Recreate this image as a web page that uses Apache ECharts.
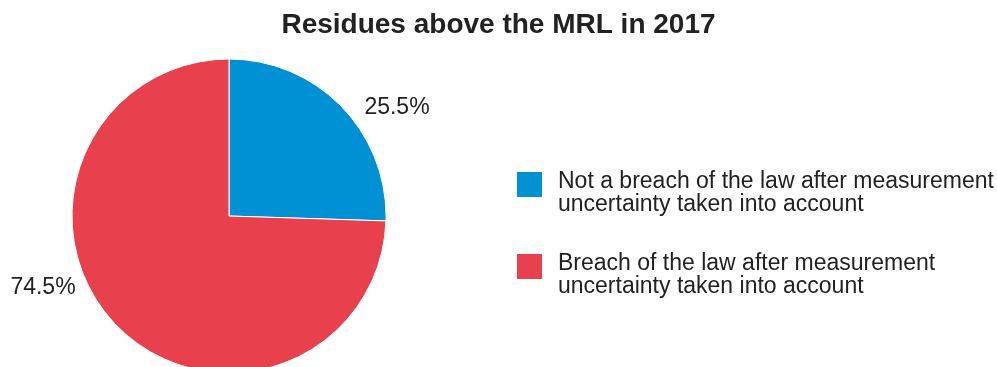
<!DOCTYPE html>
<html>
<head>
<meta charset="utf-8">
<script src="https://cdn.jsdelivr.net/npm/echarts@6/dist/echarts.min.js"></script>
<style>
  html, body { margin: 0; padding: 0; background: #fff; }
  #chart { width: 997px; height: 367px; }
</style>
</head>
<body>
<div id="chart"></div>
<script>
// Share of samples with residues above the MRL, 2017
const categories = [
  'Not a breach of the law after measurement\nuncertainty taken into account',
  'Breach of the law after measurement\nuncertainty taken into account'
];
const shares = [25.5, 74.5];
const colors = ['#0090d4', '#e8404d'];
// where each percentage label sits, relative to the pie centre (px)
const labelOffsets = [[168, -108], [-186, 72]];

const center = [229, 216];
const radius = 157;
const font = 'Liberation Sans';

const chart = echarts.init(document.getElementById('chart'));
chart.setOption({
  animation: false,
  title: {
    text: 'Residues above the MRL in 2017',
    left: 'center',
    top: 11,
    padding: 0,
    textStyle: { fontFamily: font, fontSize: 28, fontWeight: 'bold', color: '#222' }
  },
  legend: {
    orient: 'vertical',
    left: 517,
    top: 150,
    padding: 0,
    itemWidth: 25,
    itemHeight: 25,
    itemGap: 16,
    itemStyle: { borderWidth: 0 },
    icon: 'rect',
    // a short spacer line on top drops the text so its first line sits level with the swatch
    formatter: name => '{s|}\n' + name.split('\n').map(l => '{g|}' + l).join('\n'),
    textStyle: {
      fontFamily: font, fontSize: 23, lineHeight: 23, color: '#222',
      rich: {
        s: { lineHeight: 17, height: 17 },
        g: { width: 11 }
      }
    },
    data: categories
  },
  series: [{
    type: 'pie',
    center: center,
    radius: radius,
    startAngle: 90,
    clockwise: true,
    itemStyle: { borderColor: '#fff', borderWidth: 1 },
    label: {
      show: true,
      position: 'inside',
      overflow: 'none',
      formatter: p => p.value.toFixed(1) + '%',
      fontFamily: font, fontSize: 23, color: '#222'
    },
    labelLine: { show: false },
    labelLayout: function (params) {
      const off = labelOffsets[params.dataIndex];
      return {
        x: center[0] + off[0],
        y: center[1] + off[1],
        align: 'center',
        verticalAlign: 'middle'
      };
    },
    data: categories.map((name, i) => ({ name: name, value: shares[i], itemStyle: { color: colors[i] } }))
  }]
});
</script>
</body>
</html>
